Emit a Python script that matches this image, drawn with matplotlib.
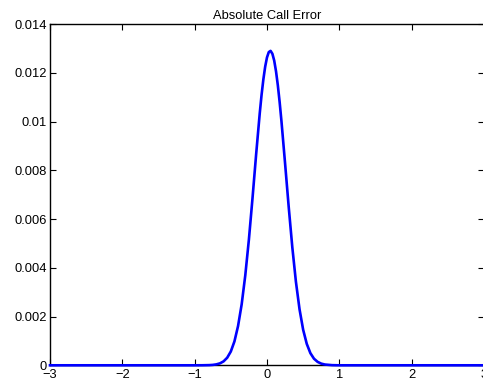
import matplotlib
matplotlib.use('Agg')
import matplotlib.pyplot as plt

plt.rcParams['font.family'] = ['Liberation Sans', 'DejaVu Sans']
plt.rcParams['axes.unicode_minus'] = True

# absolute error of the call price against the spot (log-moneyness)
spot = [-3.0, -1.0, -0.9, -0.8, -0.75, -0.7, -0.65, -0.6, -0.55, -0.5, -0.45,
        -0.4, -0.35, -0.3, -0.25, -0.2, -0.15, -0.1, -0.075, -0.05, -0.025,
        0.0, 0.025, 0.05, 0.075, 0.1, 0.125, 0.15, 0.175, 0.2, 0.25, 0.3,
        0.35, 0.4, 0.45, 0.5, 0.55, 0.6, 0.65, 0.7, 0.75, 0.8, 0.9, 1.0, 3.0]
abs_err = [0.0, 0.0, 0.0000011, 0.0000071, 0.0000167, 0.000038, 0.00008, 0.000162,
           0.000311, 0.000566, 0.000979, 0.00161, 0.0025, 0.00369, 0.00516,
           0.00686, 0.00865, 0.01034, 0.01109, 0.01173, 0.01225,
           0.01263, 0.01285, 0.0129, 0.01278, 0.0125, 0.01206, 0.01149, 0.0108,
           0.01002, 0.00829, 0.00651, 0.00485, 0.00343, 0.0023,
           0.00146, 0.00088, 0.0005, 0.00027, 0.000141, 0.000069, 0.000032,
           0.0000059, 0.0, 0.0]

xticks = [-3, -2, -1, 0, 1, 2, 3]
yticks = [0, 0.002, 0.004, 0.006, 0.008, 0.01, 0.012, 0.014]
ytick_labels = ['0', '0.002', '0.004', '0.006', '0.008', '0.01', '0.012', '0.014']

fig = plt.figure(figsize=(4.83, 3.88), dpi=100)
ax = fig.add_axes([0.1035, 0.0585, 0.8985, 0.8795])

ax.plot(spot, abs_err, color=(0, 0, 1), lw=1.9, zorder=3, clip_on=False)

ax.set_xlim(-3, 3)
ax.set_ylim(0, 0.014)
ax.set_xticks(xticks)
ax.set_xticklabels([str(t) if t >= 0 else '\u2212' + str(-t) for t in xticks])
ax.set_yticks(yticks)
ax.set_yticklabels(ytick_labels)
ax.tick_params(direction='in', top=True, right=True, length=4, width=0.8,
               labelsize=9.3, pad=2.5)
for s in ax.spines.values():
    s.set_linewidth(1.0)

ax.set_title('Absolute Call Error', fontsize=9.3, pad=4)

fig.savefig('out.png', dpi=100)
